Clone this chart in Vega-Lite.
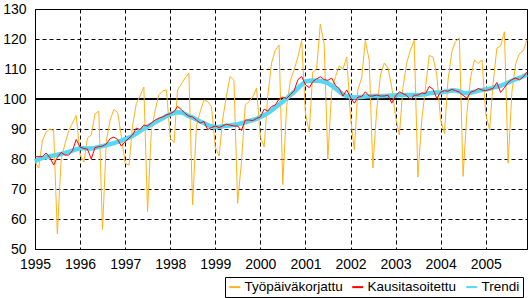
{
  "$schema": "https://vega.github.io/schema/vega-lite/v6.json",
  "width": 492,
  "height": 240,
  "autosize": {"type": "none"},
  "padding": {"left": 35, "top": 9, "right": 3, "bottom": 49},
  "background": "white",
  "config": {
    "font": "Liberation Sans",
    "view": {"stroke": "black", "strokeWidth": 1},
    "axis": {"labelFont": "Liberation Sans", "labelFontSize": 14, "labelColor": "black", "domain": false, "ticks": false, "grid": true, "gridColor": "black", "gridDash": [4, 3], "gridOpacity": 1, "gridWidth": 1, "title": null, "labelOverlap": false}
  },
  "data": {"values": [
    {"d":"1995-01-01","tp":79,"ka":80.8,"tr":79.2},
    {"d":"1995-02-01","tp":77,"ka":80.8,"tr":80.0},
    {"d":"1995-03-01","tp":86,"ka":80.8,"tr":80.3},
    {"d":"1995-04-01","tp":89,"ka":82.0,"tr":80.6},
    {"d":"1995-05-01","tp":90,"ka":80.5,"tr":80.9},
    {"d":"1995-06-01","tp":89.5,"ka":78.0,"tr":81.2},
    {"d":"1995-07-01","tp":55,"ka":80.5,"tr":81.4},
    {"d":"1995-08-01","tp":80,"ka":82.2,"tr":81.7},
    {"d":"1995-09-01","tp":85,"ka":81.3,"tr":82.0},
    {"d":"1995-10-01","tp":89.5,"ka":81.3,"tr":82.4},
    {"d":"1995-11-01","tp":92,"ka":82.8,"tr":82.8},
    {"d":"1995-12-01","tp":94.5,"ka":86.5,"tr":83.2},
    {"d":"1996-01-01","tp":81.5,"ka":84.0,"tr":83.6},
    {"d":"1996-02-01","tp":79,"ka":83.5,"tr":83.6},
    {"d":"1996-03-01","tp":87,"ka":83.3,"tr":83.5},
    {"d":"1996-04-01","tp":88,"ka":80.0,"tr":83.5},
    {"d":"1996-05-01","tp":95,"ka":83.8,"tr":83.7},
    {"d":"1996-06-01","tp":96,"ka":84.1,"tr":84.0},
    {"d":"1996-07-01","tp":56.5,"ka":84.3,"tr":84.3},
    {"d":"1996-08-01","tp":86,"ka":85.0,"tr":84.6},
    {"d":"1996-09-01","tp":93,"ka":86.8,"tr":85.0},
    {"d":"1996-10-01","tp":96.5,"ka":87.3,"tr":85.3},
    {"d":"1996-11-01","tp":95.5,"ka":86.5,"tr":85.7},
    {"d":"1996-12-01","tp":87.5,"ka":84.3,"tr":86.1},
    {"d":"1997-01-01","tp":78.5,"ka":85.8,"tr":86.6},
    {"d":"1997-02-01","tp":78,"ka":87.0,"tr":87.1},
    {"d":"1997-03-01","tp":91,"ka":88.0,"tr":87.7},
    {"d":"1997-04-01","tp":98.5,"ka":90.3,"tr":88.5},
    {"d":"1997-05-01","tp":101,"ka":89.8,"tr":89.3},
    {"d":"1997-06-01","tp":104,"ka":91.3,"tr":90.1},
    {"d":"1997-07-01","tp":62.5,"ka":91.0,"tr":90.8},
    {"d":"1997-08-01","tp":89.5,"ka":92.0,"tr":91.5},
    {"d":"1997-09-01","tp":96.3,"ka":93.0,"tr":92.2},
    {"d":"1997-10-01","tp":101.4,"ka":93.6,"tr":92.9},
    {"d":"1997-11-01","tp":102.7,"ka":94.0,"tr":93.6},
    {"d":"1997-12-01","tp":103,"ka":94.7,"tr":94.3},
    {"d":"1998-01-01","tp":87,"ka":95.1,"tr":94.9},
    {"d":"1998-02-01","tp":85.5,"ka":95.8,"tr":95.4},
    {"d":"1998-03-01","tp":103,"ka":97.5,"tr":95.6},
    {"d":"1998-04-01","tp":105,"ka":96.5,"tr":95.5},
    {"d":"1998-05-01","tp":107,"ka":95.2,"tr":95.0},
    {"d":"1998-06-01","tp":108.6,"ka":94.3,"tr":94.3},
    {"d":"1998-07-01","tp":64.7,"ka":94.0,"tr":93.8},
    {"d":"1998-08-01","tp":91,"ka":93.0,"tr":93.2},
    {"d":"1998-09-01","tp":95.8,"ka":92.0,"tr":92.5},
    {"d":"1998-10-01","tp":99.7,"ka":92.5,"tr":92.0},
    {"d":"1998-11-01","tp":99.1,"ka":89.8,"tr":91.3},
    {"d":"1998-12-01","tp":97.5,"ka":90.5,"tr":90.9},
    {"d":"1999-01-01","tp":84,"ka":91.0,"tr":90.7},
    {"d":"1999-02-01","tp":81,"ka":90.5,"tr":90.7},
    {"d":"1999-03-01","tp":93,"ka":91.0,"tr":90.9},
    {"d":"1999-04-01","tp":101,"ka":91.6,"tr":91.1},
    {"d":"1999-05-01","tp":107.5,"ka":91.3,"tr":91.2},
    {"d":"1999-06-01","tp":106.3,"ka":91.0,"tr":91.4},
    {"d":"1999-07-01","tp":65.2,"ka":91.0,"tr":91.6},
    {"d":"1999-08-01","tp":79,"ka":89.5,"tr":91.9},
    {"d":"1999-09-01","tp":98,"ka":93.0,"tr":92.2},
    {"d":"1999-10-01","tp":99.1,"ka":93.0,"tr":92.6},
    {"d":"1999-11-01","tp":100.8,"ka":92.8,"tr":93.0},
    {"d":"1999-12-01","tp":103.6,"ka":93.5,"tr":93.4},
    {"d":"2000-01-01","tp":87.5,"ka":94.0,"tr":94.0},
    {"d":"2000-02-01","tp":84,"ka":96.6,"tr":94.6},
    {"d":"2000-03-01","tp":100.8,"ka":96.0,"tr":95.3},
    {"d":"2000-04-01","tp":112,"ka":97.5,"tr":96.2},
    {"d":"2000-05-01","tp":116.3,"ka":98.0,"tr":97.2},
    {"d":"2000-06-01","tp":118,"ka":100.0,"tr":98.2},
    {"d":"2000-07-01","tp":71.5,"ka":100.6,"tr":99.1},
    {"d":"2000-08-01","tp":97.5,"ka":100.2,"tr":100.2},
    {"d":"2000-09-01","tp":106.3,"ka":101.5,"tr":101.3},
    {"d":"2000-10-01","tp":109.7,"ka":102.8,"tr":102.3},
    {"d":"2000-11-01","tp":114.1,"ka":106.5,"tr":103.6},
    {"d":"2000-12-01","tp":119.5,"ka":107.5,"tr":104.8},
    {"d":"2001-01-01","tp":95,"ka":104.7,"tr":105.8},
    {"d":"2001-02-01","tp":89,"ka":103.8,"tr":106.1},
    {"d":"2001-03-01","tp":109,"ka":105.8,"tr":106.2},
    {"d":"2001-04-01","tp":110,"ka":106.7,"tr":106.1},
    {"d":"2001-05-01","tp":125,"ka":107.4,"tr":106.0},
    {"d":"2001-06-01","tp":118.5,"ka":106.5,"tr":105.7},
    {"d":"2001-07-01","tp":80,"ka":106.2,"tr":105.3},
    {"d":"2001-08-01","tp":102.5,"ka":107.0,"tr":104.5},
    {"d":"2001-09-01","tp":107.5,"ka":104.5,"tr":103.5},
    {"d":"2001-10-01","tp":111,"ka":103.5,"tr":102.5},
    {"d":"2001-11-01","tp":110,"ka":101.0,"tr":101.5},
    {"d":"2001-12-01","tp":114,"ka":103.0,"tr":101.0},
    {"d":"2002-01-01","tp":94,"ka":100.5,"tr":100.8},
    {"d":"2002-02-01","tp":83,"ka":98.6,"tr":100.5},
    {"d":"2002-03-01","tp":103,"ka":100.6,"tr":100.6},
    {"d":"2002-04-01","tp":107,"ka":100.8,"tr":100.7},
    {"d":"2002-05-01","tp":119.5,"ka":102.4,"tr":100.8},
    {"d":"2002-06-01","tp":113,"ka":101.0,"tr":100.9},
    {"d":"2002-07-01","tp":77,"ka":101.0,"tr":101.0},
    {"d":"2002-08-01","tp":96.3,"ka":101.3,"tr":101.0},
    {"d":"2002-09-01","tp":108,"ka":101.0,"tr":101.0},
    {"d":"2002-10-01","tp":112,"ka":101.0,"tr":101.0},
    {"d":"2002-11-01","tp":110.3,"ka":101.3,"tr":101.1},
    {"d":"2002-12-01","tp":104,"ka":98.6,"tr":101.2},
    {"d":"2003-01-01","tp":94,"ka":101.0,"tr":101.2},
    {"d":"2003-02-01","tp":88,"ka":102.4,"tr":101.3},
    {"d":"2003-03-01","tp":103.5,"ka":101.8,"tr":101.3},
    {"d":"2003-04-01","tp":112,"ka":101.2,"tr":101.3},
    {"d":"2003-05-01","tp":116.3,"ka":99.7,"tr":101.3},
    {"d":"2003-06-01","tp":119.5,"ka":101.3,"tr":101.3},
    {"d":"2003-07-01","tp":74,"ka":101.3,"tr":101.3},
    {"d":"2003-08-01","tp":93,"ka":102.0,"tr":101.4},
    {"d":"2003-09-01","tp":104,"ka":101.8,"tr":101.6},
    {"d":"2003-10-01","tp":114.5,"ka":104.2,"tr":101.9},
    {"d":"2003-11-01","tp":114,"ka":103.2,"tr":102.1},
    {"d":"2003-12-01","tp":108,"ka":100.2,"tr":102.2},
    {"d":"2004-01-01","tp":93,"ka":102.3,"tr":102.2},
    {"d":"2004-02-01","tp":88.5,"ka":102.8,"tr":102.4},
    {"d":"2004-03-01","tp":106.3,"ka":102.6,"tr":102.6},
    {"d":"2004-04-01","tp":115.8,"ka":103.2,"tr":102.9},
    {"d":"2004-05-01","tp":119.2,"ka":102.8,"tr":102.8},
    {"d":"2004-06-01","tp":120.3,"ka":102.3,"tr":102.5},
    {"d":"2004-07-01","tp":74.2,"ka":101.2,"tr":102.0},
    {"d":"2004-08-01","tp":95.2,"ka":100.3,"tr":101.9},
    {"d":"2004-09-01","tp":107.4,"ka":102.3,"tr":102.1},
    {"d":"2004-10-01","tp":113,"ka":102.7,"tr":102.4},
    {"d":"2004-11-01","tp":111.9,"ka":103.5,"tr":102.8},
    {"d":"2004-12-01","tp":113,"ka":103.0,"tr":103.0},
    {"d":"2005-01-01","tp":95,"ka":102.8,"tr":103.2},
    {"d":"2005-02-01","tp":89.7,"ka":103.2,"tr":103.4},
    {"d":"2005-03-01","tp":105.2,"ka":103.5,"tr":103.8},
    {"d":"2005-04-01","tp":116.9,"ka":105.5,"tr":104.1},
    {"d":"2005-05-01","tp":117.7,"ka":102.2,"tr":104.4},
    {"d":"2005-06-01","tp":122.4,"ka":103.8,"tr":104.9},
    {"d":"2005-07-01","tp":78.6,"ka":105.5,"tr":105.5},
    {"d":"2005-08-01","tp":102.5,"ka":106.5,"tr":106.1},
    {"d":"2005-09-01","tp":111.9,"ka":107.0,"tr":106.6},
    {"d":"2005-10-01","tp":115.2,"ka":106.4,"tr":107.0},
    {"d":"2005-11-01","tp":116.1,"ka":107.4,"tr":107.6},
    {"d":"2005-12-01","tp":119.7,"ka":109.0,"tr":108.2}
  ]},
  "encoding": {
    "x": {"field": "d", "type": "temporal",
      "scale": {"domain": [{"year": 1995, "month": 1, "date": 1}, {"year": 2005, "month": 12, "date": 1}]},
      "axis": {"format": "%Y", "tickCount": {"interval": "year", "step": 1}, "labelFlush": false, "labelPadding": 8, "labelAlign": "center"}}
  },
  "layer": [
    {"mark": {"type": "rule", "color": "black", "strokeWidth": 1},
     "encoding": {"x": null, "y": {"datum": 100, "type": "quantitative",
         "scale": {"domain": [50, 130], "nice": false, "zero": false},
         "axis": {"values": [50, 60, 70, 80, 90, 100, 110, 120, 130], "labelPadding": 9}}}},
    {"mark": {"type": "line", "strokeWidth": 1},
     "encoding": {
       "y": {"field": "tp", "type": "quantitative",
         "scale": {"domain": [50, 130], "nice": false, "zero": false},
         "axis": {"values": [50, 60, 70, 80, 90, 100, 110, 120, 130], "labelPadding": 9}},
       "color": {"datum": "Työpäiväkorjattu",
         "scale": {"domain": ["Työpäiväkorjattu", "Kausitasoitettu", "Trendi"], "range": ["#FFB21A", "#FF0000", "#55D7F7"]},
         "legend": {"orient": "none", "legendX": 190, "legendY": 268, "direction": "horizontal", "title": null,
           "symbolType": "stroke", "symbolSize": 120, "symbolStrokeWidth": 2,
           "labelFontSize": 13.5, "labelFont": "Liberation Sans", "labelColor": "black",
           "strokeColor": "black", "fillColor": "white", "padding": 3, "columnPadding": 5, "labelOffset": 3}}
     }},
    {"mark": {"type": "line", "strokeWidth": 4.5},
     "encoding": {
       "y": {"field": "tr", "type": "quantitative",
         "scale": {"domain": [50, 130], "nice": false, "zero": false},
         "axis": {"values": [50, 60, 70, 80, 90, 100, 110, 120, 130], "labelPadding": 9}},
       "color": {"datum": "Trendi"}
     }},
    {"mark": {"type": "line", "strokeWidth": 1},
     "encoding": {
       "y": {"field": "ka", "type": "quantitative",
         "scale": {"domain": [50, 130], "nice": false, "zero": false},
         "axis": {"values": [50, 60, 70, 80, 90, 100, 110, 120, 130], "labelPadding": 9}},
       "color": {"datum": "Kausitasoitettu"}
     }}
  ]
}
